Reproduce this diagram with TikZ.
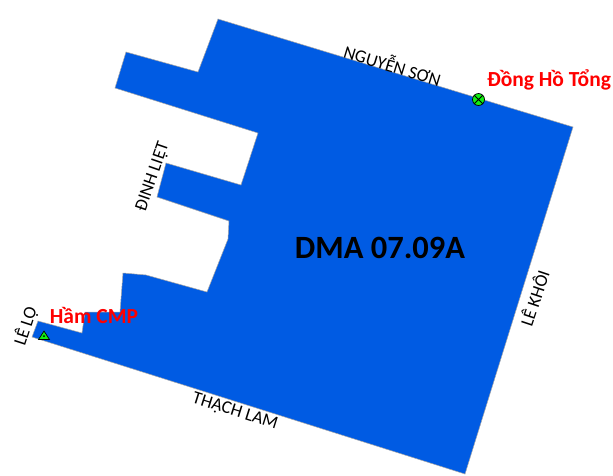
\documentclass[tikz,border=0pt]{standalone}
\usepackage{fontspec}
\setmainfont{Carlito}
\definecolor{zoneblue}{HTML}{005BE3}
\definecolor{mark}{HTML}{12EE12}
\tikzset{
  zone/.style={fill=zoneblue,draw=black!35,line width=0.5pt,line join=miter},
  road/.style={font=\fontsize{18}{18}\selectfont,text=black,inner sep=0pt},
  redlabel/.style={font=\bfseries\fontsize{21.5}{22}\selectfont,text=red,inner sep=0pt},
  title/.style={font=\bfseries\fontsize{32.5}{33}\selectfont,text=black,inner sep=0pt}
}
\begin{document}
\begin{tikzpicture}[x=1pt,y=-1pt]
\useasboundingbox (0,0) rectangle (613,475);
\fill[white] (0,0) rectangle (613,475);
\draw[zone] (218,19) -- (573,127) -- (465,474) -- (32,337) -- (38,321) -- (82,333) -- (85,312) -- (120,312) -- (123,273) -- (146,275) -- (207,292) -- (228,239) -- (229,221) -- (157,197) -- (166,163) -- (241,185) -- (258,133) -- (115,88) -- (126,52) -- (198,72) -- cycle;
\node[title] (dma) at (380,248) {DMA 07.09A};
\node[road,rotate=-17] (ns) at (393,64) {NGUYỄN SƠN};
\node[road,rotate=71] (dl) at (153,177) {ĐINH LIỆT};
\node[road,rotate=72] (ll) at (25.5,326) {LÊ LỘ};
\node[road,rotate=71.5] (lk) at (534,298) {LÊ KHÔI};
\node[road,rotate=-17.5] (tl) at (235,412) {THẠCH LAM};
\node[redlabel] (dh) at (549,80) {Đồng Hồ Tổng};
\node[redlabel] (hc) at (94,315) {Hầm CMP};
\node[circle,draw=black,fill=mark,line width=0.7pt,minimum size=12pt,inner sep=0pt] (meter) at (478.5,99.5) {};
\draw[line width=0.8pt] (meter.north west) -- (meter.south east) (meter.north east) -- (meter.south west);
\coordinate (ta) at (44,331);
\coordinate (tb) at (38.5,339.5);
\coordinate (tc) at (49.5,339.5);
\draw[fill=mark,line width=0.7pt,line join=miter] (ta) -- (tb) -- (tc) -- cycle;
\fill[black] (44,336) circle (1pt);
\end{tikzpicture}
\end{document}
